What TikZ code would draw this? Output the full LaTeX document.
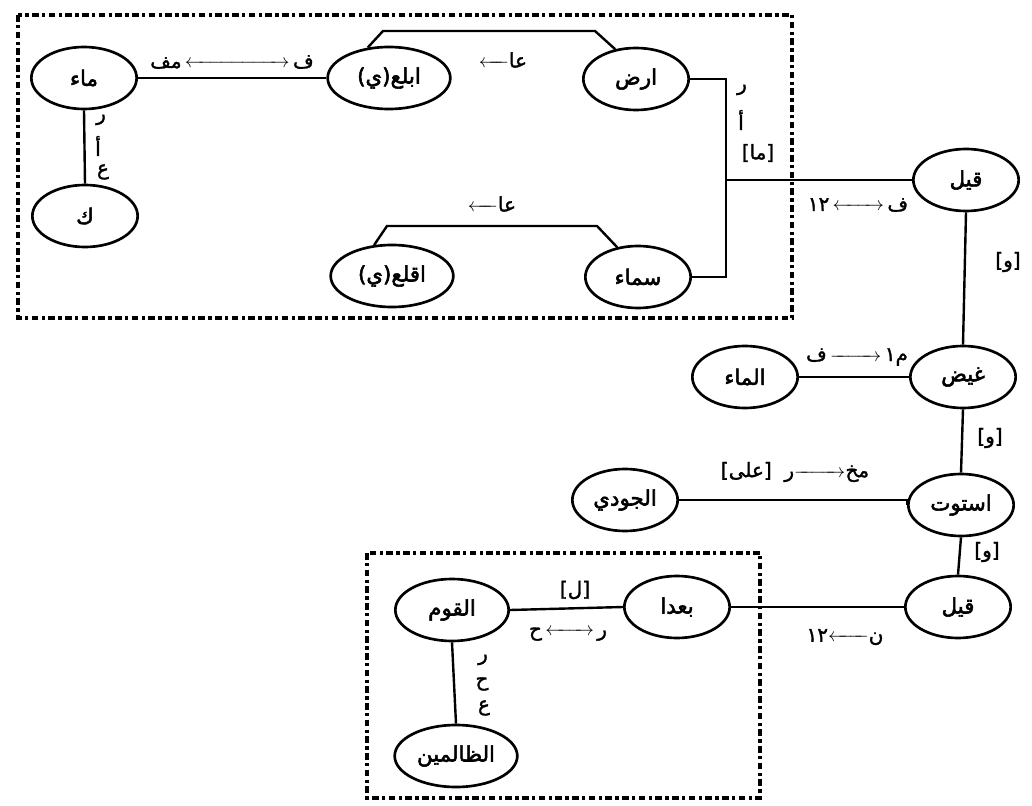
\documentclass[tikz,border=0pt]{standalone}
\usepackage{mathtools}
\usepackage{fontspec}
\usetikzlibrary{shapes.geometric}
\TeXXeTstate=1
\newfontfamily\ar[Script=Arabic,FakeBold=1.5]{DejaVu Sans}
\newfontfamily\arb[Script=Arabic,FakeBold=2.5]{DejaVu Sans}
\newcommand{\lra}[1]{\,$\xleftrightarrow{\hspace{#1}}$\,}
\newcommand{\la}[1]{$\xleftarrow{\hspace{#1}}$}
\newcommand{\ra}[1]{$\xrightarrow{\hspace{#1}}$}
\begin{document}
\begin{tikzpicture}[x=0.75pt,y=-0.75pt,
  wnode/.style={ellipse,draw,line width=2pt,minimum width=79pt,minimum height=46.5pt,inner sep=0pt,font=\arb\fontsize{16}{18}\selectfont},
  wide/.style={minimum width=92pt},
  conn/.style={line width=1.8pt},
  lab/.style={inner sep=0pt,font=\ar\fontsize{15}{17}\selectfont},
  frame/.style={line width=2.4pt,dash pattern=on 5pt off 2.5pt on 2.5pt off 2.5pt}]
\useasboundingbox (0,0) rectangle (1032,806);
% frames
\draw[frame] (18,15) rectangle (792,318);
\draw[frame] (367,553) rectangle (760,798);
% word nodes
\node[wnode] (maa) at (84,78) {\beginR ماء\endR};
\node[wnode] (kaf) at (85,216) {\beginR ك\endR};
\node[wnode,wide] (ibla) at (389,78) {\beginR ابلع(ي)\endR};
\node[wnode] (ard) at (636,79) {\beginR ارض\endR};
\node[wnode,wide] (iqla) at (392,276) {\beginR اقلع(ي)\endR};
\node[wnode] (sama) at (638,277) {\beginR سماء\endR};
\node[wnode] (qil1) at (966,180) {\beginR قيل\endR};
\node[wnode] (ghid) at (963,377) {\beginR غيض\endR};
\node[wnode] (almaa) at (745,377) {\beginR الماء\endR};
\node[wnode] (istw) at (961,505) {\beginR استوت\endR};
\node[wnode] (judi) at (625,500) {\beginR الجودي\endR};
\node[wnode] (qil2) at (958,607) {\beginR قيل\endR};
\node[wnode] (bud) at (677,607) {\beginR بعدا\endR};
\node[wnode,minimum width=85pt] (qawm) at (452,610) {\beginR القوم\endR};
\node[wnode,wide] (zal) at (456,756) {\beginR الظالمين\endR};
\coordinate (j) at (726,180);
% connectors
\draw[conn] (maa.east) -- (ibla.west);
\draw[conn] (maa.south) -- (kaf.north);
\draw[conn] (ibla.125) -- (383,31) -- (595,31) -- (ard.125);
\draw[conn] (iqla.120) -- (387,226) -- (597,226) -- (sama.125);
\draw[conn] (ard.east) -| (j) |- (sama.east);
\draw[conn] (j) -- (qil1.west);
\draw[conn] (qil1.south) -- (ghid.north);
\draw[conn] (almaa.east) -- (ghid.west);
\draw[conn] (ghid.south) -- (istw.north);
\draw[conn] (judi.east) -- (istw.west |- judi.east) -- (istw.west);
\draw[conn] (istw.south) -- (qil2.north);
\draw[conn] (bud.east) -- (qil2.west);
\draw[conn] (qawm.east) -- (bud.west);
\draw[conn] (qawm.south) -- (zal.north);
% labels
\node[lab] (l1) at (232,62) {مف\lra{70pt}ف};
\node[lab] (l2a) at (101,120) {ر};
\node[lab] (l2b) at (98,146) {أ};
\node[lab] (l2c) at (103,172) {ع};
\node[lab] (l3) at (503,60) {\la{14pt}عا};
\node[lab] (l4) at (492,204) {\la{14pt}عا};
\node[lab] (l5a) at (742,90) {ر};
\node[lab] (l5b) at (741,120) {أ};
\node[lab] (l5c) at (758,153) {[ما]};
\node[lab] (l6) at (858,205) {١٢\lra{30pt}ف};
\node[lab] (l7) at (1008,262) {[و]};
\node[lab] (l8) at (857,357) {ف\,\ra{30pt}\,م١};
\node[lab] (l9) at (990,438) {[و]};
\node[lab] (l10) at (795,472) {[على]\ \ ر\ra{30pt}مخ};
\node[lab] (l11) at (987,552) {[و]};
\node[lab] (l12) at (845,637) {١٢\la{22pt}ن};
\node[lab] (l13) at (575,590) {[ل]};
\node[lab] (l14) at (568,632) {ح\lra{28pt}ر};
\node[lab] (l15a) at (483,660) {ر};
\node[lab] (l15b) at (482,684) {ح};
\node[lab] (l15c) at (484,708) {ع};
\end{tikzpicture}
\end{document}
